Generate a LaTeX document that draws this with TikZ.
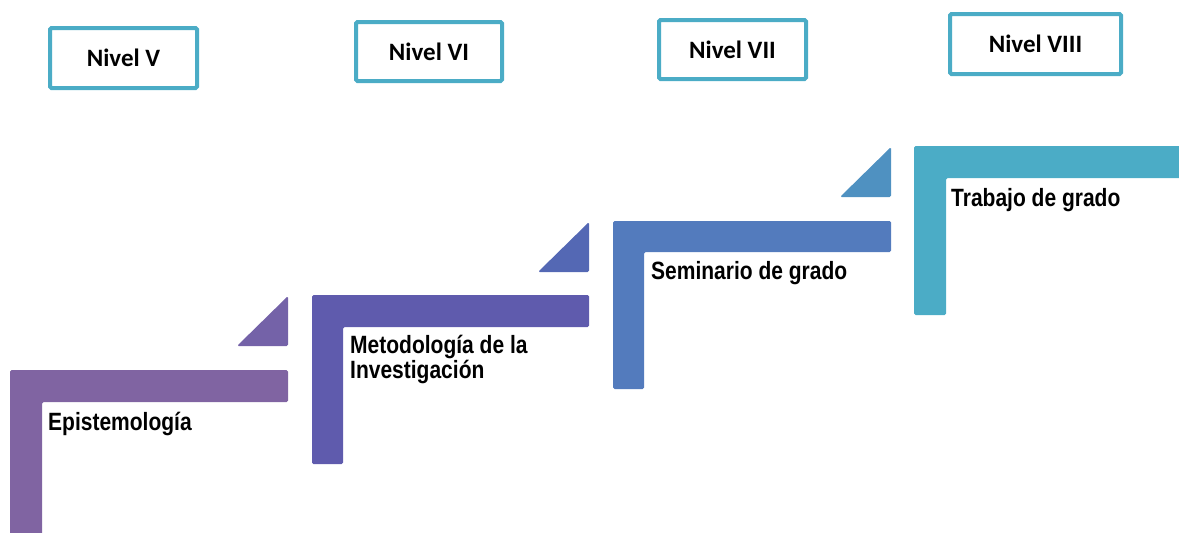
\documentclass[tikz,border=0pt]{standalone}
\usepackage{fontspec}
\setmainfont{Carlito}
\newfontfamily\condfont[FakeStretch=0.84]{Liberation Sans}
\definecolor{cA}{HTML}{8064A2}
\definecolor{cAt}{HTML}{7462A8}
\definecolor{cB}{HTML}{5F5BAD}
\definecolor{cBt}{HTML}{5468B4}
\definecolor{cC}{HTML}{537BBD}
\definecolor{cCt}{HTML}{4F91C1}
\definecolor{cD}{HTML}{4BACC6}
\begin{document}
\begin{tikzpicture}[x=1pt,y=-1pt,
  nivel/.style={draw=cD,line width=4pt,fill=white,rounded corners=1.5pt,inner sep=0pt,font=\fontsize{25}{29}\selectfont\bfseries},
  steplabel/.style={anchor=base west,inner sep=0pt,align=left,font=\condfont\fontsize{25}{24.5}\selectfont\bfseries},
  tri/.style={rounded corners=1.5pt},
  ell/.style={rounded corners=1.5pt}]
\useasboundingbox (0,0) rectangle (1179,533);
% L shapes
\fill[cA,ell] (10,540) -- (10,370) -- (288,370) -- (288,402) -- (42,402) -- (42,540) -- cycle;
\fill[cB,ell] (312,464) -- (312,295) -- (589,295) -- (589,327) -- (343,327) -- (343,464) -- cycle;
\fill[cC,ell] (613,389) -- (613,221) -- (891,221) -- (891,252) -- (644,252) -- (644,389) -- cycle;
\fill[cD,ell] (914,315) -- (914,146) -- (1190,146) -- (1190,178) -- (946,178) -- (946,315) -- cycle;
% triangles
\fill[cAt,tri] (237,346) -- (288,296) -- (288,346) -- cycle;
\fill[cBt,tri] (538,272) -- (589,222) -- (589,272) -- cycle;
\fill[cCt,tri] (840,197) -- (891,147) -- (891,197) -- cycle;
% labels
\node[steplabel] (s1) at (48,430) {Epistemología};
\node[steplabel] (s2) at (350,378) {Metodología de la\\Investigación};
\node[steplabel] (s3) at (651,279) {Seminario de grado};
\node[steplabel] (s4) at (951,206) {Trabajo de grado};
% nivel boxes
\node[nivel,minimum width=147pt,minimum height=60pt] (n5) at (123.5,58) {Nivel V};
\node[nivel,minimum width=146pt,minimum height=59pt] (n6) at (429,51.5) {Nivel VI};
\node[nivel,minimum width=147pt,minimum height=59pt] (n7) at (732.5,49.5) {Nivel VII};
\node[nivel,minimum width=171pt,minimum height=60pt] (n8) at (1035.5,44) {Nivel VIII};
\end{tikzpicture}
\end{document}
